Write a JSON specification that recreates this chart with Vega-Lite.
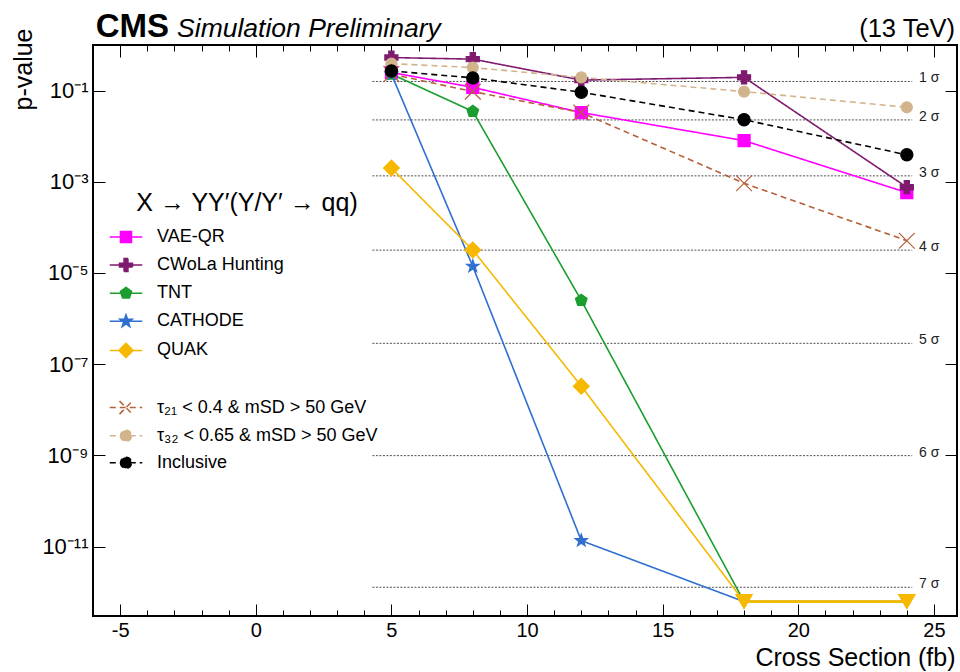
{
  "$schema": "https://vega.github.io/schema/vega-lite/v6.json",
  "autosize": "none",
  "width": 864,
  "height": 571,
  "padding": {"left": 93, "top": 45, "right": 3, "bottom": 56},
  "background": "white",
  "config": {
    "font": "Liberation Sans",
    "view": {"stroke": "black", "strokeWidth": 2},
    "axis": {"domain": false, "grid": false, "tickColor": "black", "tickWidth": 1, "labelColor": "black", "titleColor": "black", "labelFont": "Liberation Sans", "titleFont": "Liberation Sans", "titleFontWeight": "normal"},
    "legend": {"orient": "none", "legendX": 24, "legendY": 146, "titleFontSize": 25, "titleFontWeight": "normal", "titleFont": "Liberation Sans", "titleColor": "black", "titleAnchor": "middle", "titlePadding": 12, "titleLimit": 500, "labelLimit": 500, "labelFontSize": 18, "labelColor": "black", "labelFont": "Liberation Sans", "rowPadding": 9.1, "labelOffset": 22, "symbolSize": 169, "symbolStrokeWidth": 1.5}
  },
  "datasets": {
    "pv": [
      {"series": "VAE-QR", "x": 5, "p": 0.25, "limit": false},
      {"series": "VAE-QR", "x": 8, "p": 0.118, "limit": false},
      {"series": "VAE-QR", "x": 12, "p": 0.033, "limit": false},
      {"series": "VAE-QR", "x": 18, "p": 0.008, "limit": false},
      {"series": "VAE-QR", "x": 24, "p": 0.00058, "limit": false},
      {"series": "CWoLa Hunting", "x": 5, "p": 0.53, "limit": false},
      {"series": "CWoLa Hunting", "x": 8, "p": 0.49, "limit": false},
      {"series": "CWoLa Hunting", "x": 12, "p": 0.17, "limit": false},
      {"series": "CWoLa Hunting", "x": 18, "p": 0.195, "limit": false},
      {"series": "CWoLa Hunting", "x": 24, "p": 0.00076, "limit": false},
      {"series": "TNT", "x": 5, "p": 0.23, "limit": false},
      {"series": "TNT", "x": 8, "p": 0.035, "limit": false},
      {"series": "TNT", "x": 12, "p": 2.5e-6, "limit": false},
      {"series": "TNT", "x": 18, "p": 6.2e-13, "limit": true},
      {"series": "TNT", "x": 24, "p": 6.2e-13, "limit": true},
      {"series": "CATHODE", "x": 5, "p": 0.23, "limit": false},
      {"series": "CATHODE", "x": 8, "p": 1.4e-5, "limit": false},
      {"series": "CATHODE", "x": 12, "p": 1.35e-11, "limit": false},
      {"series": "CATHODE", "x": 18, "p": 6.2e-13, "limit": true},
      {"series": "CATHODE", "x": 24, "p": 6.2e-13, "limit": true},
      {"series": "QUAK", "x": 5, "p": 0.002, "limit": false},
      {"series": "QUAK", "x": 8, "p": 3.2e-5, "limit": false},
      {"series": "QUAK", "x": 12, "p": 3.3e-8, "limit": false},
      {"series": "QUAK", "x": 18, "p": 6.2e-13, "limit": true},
      {"series": "QUAK", "x": 24, "p": 6.2e-13, "limit": true},
      {"series": "τ₂₁ < 0.4 & mSD > 50 GeV", "x": 5, "p": 0.23, "limit": false},
      {"series": "τ₂₁ < 0.4 & mSD > 50 GeV", "x": 8, "p": 0.095, "limit": false},
      {"series": "τ₂₁ < 0.4 & mSD > 50 GeV", "x": 12, "p": 0.033, "limit": false},
      {"series": "τ₂₁ < 0.4 & mSD > 50 GeV", "x": 18, "p": 0.00093, "limit": false},
      {"series": "τ₂₁ < 0.4 & mSD > 50 GeV", "x": 24, "p": 5.1e-5, "limit": false},
      {"series": "τ₃₂ < 0.65 & mSD > 50 GeV", "x": 5, "p": 0.39, "limit": false},
      {"series": "τ₃₂ < 0.65 & mSD > 50 GeV", "x": 8, "p": 0.32, "limit": false},
      {"series": "τ₃₂ < 0.65 & mSD > 50 GeV", "x": 12, "p": 0.195, "limit": false},
      {"series": "τ₃₂ < 0.65 & mSD > 50 GeV", "x": 18, "p": 0.095, "limit": false},
      {"series": "τ₃₂ < 0.65 & mSD > 50 GeV", "x": 24, "p": 0.043, "limit": false},
      {"series": "Inclusive", "x": 5, "p": 0.27, "limit": false},
      {"series": "Inclusive", "x": 8, "p": 0.19, "limit": false},
      {"series": "Inclusive", "x": 12, "p": 0.092, "limit": false},
      {"series": "Inclusive", "x": 18, "p": 0.023, "limit": false},
      {"series": "Inclusive", "x": 24, "p": 0.0039, "limit": false}
    ],
    "sigma": [
      {"label": "1 σ", "p": 0.158655},
      {"label": "2 σ", "p": 0.0227501},
      {"label": "3 σ", "p": 0.0013499},
      {"label": "4 σ", "p": 3.16712e-5},
      {"label": "5 σ", "p": 2.86652e-7},
      {"label": "6 σ", "p": 9.86588e-10},
      {"label": "7 σ", "p": 1.27981e-12}
    ]
  },
  "resolve": {"axis": {"x": "independent", "y": "independent"}},
  "layer": [
    {
      "data": {"name": "sigma"},
      "mark": {"type": "rule", "color": "#222222", "strokeWidth": 0.8, "strokeDash": [2, 1.5]},
      "encoding": {
        "x": {"datum": 4.3, "type": "quantitative", "scale": {"domain": [-6, 25.85], "nice": false, "zero": false},
              "axis": {"orient": "top", "values": [-5,-4,-3,-2,-1,0,1,2,3,4,5,6,7,8,9,10,11,12,13,14,15,16,17,18,19,20,21,22,23,24,25], "tickSize": -6, "labels": false, "title": null}},
        "x2": {"datum": 24.2},
        "y": {"field": "p", "type": "quantitative", "scale": {"type": "log", "domain": [3e-13, 1], "nice": false}, "axis": null}
      }
    },
    {
      "data": {"name": "sigma"},
      "mark": {"type": "text", "align": "left", "baseline": "middle", "dy": -3, "fontSize": 14, "color": "#222222"},
      "encoding": {
        "x": {"datum": 24.45, "type": "quantitative", "scale": {"domain": [-6, 25.85], "nice": false, "zero": false}, "axis": null},
        "y": {"field": "p", "type": "quantitative", "scale": {"type": "log", "domain": [3e-13, 1], "nice": false}, "axis": null},
        "text": {"field": "label"}
      }
    },
    {
      "data": {"name": "pv"},
      "mark": {"type": "line", "strokeWidth": 1.6},
      "encoding": {
        "x": {"field": "x", "type": "quantitative", "scale": {"domain": [-6, 25.85], "nice": false, "zero": false},
              "axis": {"orient": "bottom", "values": [-5, 0, 5, 10, 15, 20, 25], "tickSize": -12, "labelPadding": 16, "labelFontSize": 20,
                       "labelExpr": "datum.value < 0 ? '-' + abs(datum.value) : '' + datum.value",
                       "title": "Cross Section (fb)", "titleFontSize": 25, "titleAnchor": "end", "titleAlign": "right", "titleBaseline": "alphabetic", "titleX": 862, "titleY": 49}},
        "y": {"field": "p", "type": "quantitative", "scale": {"type": "log", "domain": [3e-13, 1], "nice": false},
              "axis": {"orient": "left", "values": [0.1, 0.001, 1e-5, 1e-7, 1e-9, 1e-11], "tickSize": -12, "labelPadding": 17, "labelFontSize": 22,
                       "labelExpr": "datum.value > 0.05 ? '10⁻¹' : datum.value > 5e-4 ? '10⁻³' : datum.value > 5e-6 ? '10⁻⁵' : datum.value > 5e-8 ? '10⁻⁷' : datum.value > 5e-10 ? '10⁻⁹' : '10⁻¹¹'",
                       "title": "p-value", "titleFontSize": 25, "titleAngle": -90, "titleAlign": "right", "titleBaseline": "middle", "titleX": -70, "titleY": -17}},
        "detail": {"field": "series"},
        "color": {"field": "series", "type": "nominal", "title": "X → YY′(Y/Y′ → qq)",
                  "scale": {"domain": ["VAE-QR", "CWoLa Hunting", "TNT", "CATHODE", "QUAK", " ", "τ₂₁ < 0.4 & mSD > 50 GeV", "τ₃₂ < 0.65 & mSD > 50 GeV", "Inclusive"],
                            "range": ["#ff00ff", "#7f1a6f", "#1b9e2f", "#2f6fd0", "#f7b800", "#ffffff", "#b5603a", "#d2b48c", "#000000"]},
                  "legend": {"encode": {"symbols": {"update": {"shape": {"signal": "datum.value === 'VAE-QR' ? 'M-2.5,0L2.5,0M-0.85,-0.85L0.85,-0.85L0.85,0.85L-0.85,0.85Z' : datum.value === 'CWoLa Hunting' ? 'M-2.5,0L2.5,0M-1,-0.3L-0.3,-0.3L-0.3,-1L0.3,-1L0.3,-0.3L1,-0.3L1,0.3L0.3,0.3L0.3,1L-0.3,1L-0.3,0.3L-1,0.3Z' : datum.value === 'TNT' ? 'M-2.5,0L2.5,0M0,-0.9L0.856,-0.278L0.529,0.728L-0.529,0.728L-0.856,-0.278Z' : datum.value === 'CATHODE' ? 'M-2.5,0L2.5,0M0,-1L0.235,-0.324L0.951,-0.309L0.380,0.124L0.588,0.809L0,0.4L-0.588,0.809L-0.380,0.124L-0.951,-0.309L-0.235,-0.324Z' : datum.value === 'QUAK' ? 'M-2.5,0L2.5,0M0,-1.1L1.1,0L0,1.1L-1.1,0Z' : datum.value === ' ' ? 'M0,0' : indexof(datum.value, '0.4 ') >= 0 ? 'M-2.5,0L2.5,0M-1,-1L1,1M-1,1L1,-1' : 'M-2.5,0L2.5,0M-0.85,0A0.85,0.85 0 1,0 0.85,0A0.85,0.85 0 1,0 -0.85,0Z'"}}}}}},
        "strokeDash": {"field": "series", "type": "nominal", "title": "X → YY′(Y/Y′ → qq)",
                       "scale": {"domain": ["VAE-QR", "CWoLa Hunting", "TNT", "CATHODE", "QUAK", " ", "τ₂₁ < 0.4 & mSD > 50 GeV", "τ₃₂ < 0.65 & mSD > 50 GeV", "Inclusive"],
                                 "range": [[1, 0], [1, 0], [1, 0], [1, 0], [1, 0], [1, 0], [6, 4], [6, 4], [6, 4]]}}
      }
    },
    {
      "data": {"name": "pv"},
      "transform": [{"filter": "datum.limit && datum.series === 'QUAK'"}],
      "mark": {"type": "line", "strokeWidth": 2.6, "color": "#f7b800"},
      "encoding": {
        "x": {"field": "x", "type": "quantitative", "scale": {"domain": [-6, 25.85], "nice": false, "zero": false}, "axis": null},
        "y": {"field": "p", "type": "quantitative", "scale": {"type": "log", "domain": [3e-13, 1], "nice": false}, "axis": null}
      }
    },
    {
      "data": {"name": "pv"},
      "transform": [{"filter": "!datum.limit"}],
      "mark": {"type": "point", "filled": true, "opacity": 1, "strokeWidth": 1.2},
      "encoding": {
        "x": {"field": "x", "type": "quantitative", "scale": {"domain": [-6, 25.85], "nice": false, "zero": false},
              "axis": {"orient": "bottom", "values": [-5,-4,-3,-2,-1,0,1,2,3,4,5,6,7,8,9,10,11,12,13,14,15,16,17,18,19,20,21,22,23,24,25], "tickSize": -6, "labels": false, "title": null}},
        "y": {"field": "p", "type": "quantitative", "scale": {"type": "log", "domain": [3e-13, 1], "nice": false},
              "axis": {"orient": "right", "values": [0.1, 0.001, 1e-5, 1e-7, 1e-9, 1e-11], "tickSize": -12, "labels": false, "title": null}},
        "color": {"field": "series", "type": "nominal", "title": "X → YY′(Y/Y′ → qq)"},
        "stroke": {"field": "series", "type": "nominal", "title": "X → YY′(Y/Y′ → qq)",
                   "scale": {"domain": ["VAE-QR", "CWoLa Hunting", "TNT", "CATHODE", "QUAK", " ", "τ₂₁ < 0.4 & mSD > 50 GeV", "τ₃₂ < 0.65 & mSD > 50 GeV", "Inclusive"],
                             "range": ["#ff00ff", "#7f1a6f", "#1b9e2f", "#2f6fd0", "#f7b800", "#ffffff", "#b5603a", "#d2b48c", "#000000"]}},
        "shape": {"condition": [
                    {"test": "datum.series === 'VAE-QR'", "value": "square"},
                    {"test": "datum.series === 'CWoLa Hunting'", "value": "cross"},
                    {"test": "datum.series === 'TNT'", "value": "M0,-1L0.951,-0.309L0.588,0.809L-0.588,0.809L-0.951,-0.309Z"},
                    {"test": "datum.series === 'CATHODE'", "value": "M0,-1L0.235,-0.324L0.951,-0.309L0.380,0.124L0.588,0.809L0,0.4L-0.588,0.809L-0.380,0.124L-0.951,-0.309L-0.235,-0.324Z"},
                    {"test": "datum.series === 'QUAK'", "value": "diamond"},
                    {"test": "indexof(datum.series, '0.4 ') >= 0", "value": "M-1,-1L1,1M-1,1L1,-1"}
                  ], "value": "circle"},
        "size": {"condition": [
                    {"test": "datum.series === 'VAE-QR'", "value": 145},
                    {"test": "datum.series === 'CWoLa Hunting'", "value": 170},
                    {"test": "datum.series === 'TNT'", "value": 150},
                    {"test": "datum.series === 'CATHODE'", "value": 170},
                    {"test": "datum.series === 'QUAK'", "value": 250},
                    {"test": "indexof(datum.series, '0.4 ') >= 0", "value": 250},
                    {"test": "datum.series === 'Inclusive'", "value": 150}
                  ], "value": 120}
      }
    },
    {
      "data": {"name": "pv"},
      "transform": [{"filter": "datum.limit"}],
      "mark": {"type": "point", "filled": true, "opacity": 1, "shape": "triangle-down", "size": 320, "color": "#f7b800"},
      "encoding": {
        "x": {"field": "x", "type": "quantitative", "scale": {"domain": [-6, 25.85], "nice": false, "zero": false},
              "axis": {"orient": "top", "values": [-5, 0, 5, 10, 15, 20, 25], "tickSize": -12, "labels": false, "title": null}},
        "y": {"field": "p", "type": "quantitative", "scale": {"type": "log", "domain": [3e-13, 1], "nice": false}, "axis": null}
      }
    },
    {
      "data": {"values": [{"t": "CMS"}]},
      "mark": {"type": "text", "align": "left", "baseline": "alphabetic", "fontSize": 33, "fontWeight": "bold", "color": "black"},
      "encoding": {
        "x": {"datum": -5.9, "type": "quantitative", "scale": {"domain": [-6, 25.85], "nice": false, "zero": false}, "axis": null},
        "y": {"datum": 1.5, "type": "quantitative", "scale": {"type": "log", "domain": [3e-13, 1], "nice": false}, "axis": null},
        "text": {"field": "t"}
      }
    },
    {
      "data": {"values": [{"t": "Simulation Preliminary"}]},
      "mark": {"type": "text", "align": "left", "baseline": "alphabetic", "fontSize": 26.5, "fontStyle": "italic", "color": "black"},
      "encoding": {
        "x": {"datum": -2.9, "type": "quantitative", "scale": {"domain": [-6, 25.85], "nice": false, "zero": false}, "axis": null},
        "y": {"datum": 1.5, "type": "quantitative", "scale": {"type": "log", "domain": [3e-13, 1], "nice": false}, "axis": null},
        "text": {"field": "t"}
      }
    },
    {
      "data": {"values": [{"t": "(13 TeV)"}]},
      "mark": {"type": "text", "align": "right", "baseline": "alphabetic", "fontSize": 25.5, "color": "black"},
      "encoding": {
        "x": {"datum": 25.78, "type": "quantitative", "scale": {"domain": [-6, 25.85], "nice": false, "zero": false}, "axis": null},
        "y": {"datum": 1.5, "type": "quantitative", "scale": {"type": "log", "domain": [3e-13, 1], "nice": false}, "axis": null},
        "text": {"field": "t"}
      }
    }
  ]
}
